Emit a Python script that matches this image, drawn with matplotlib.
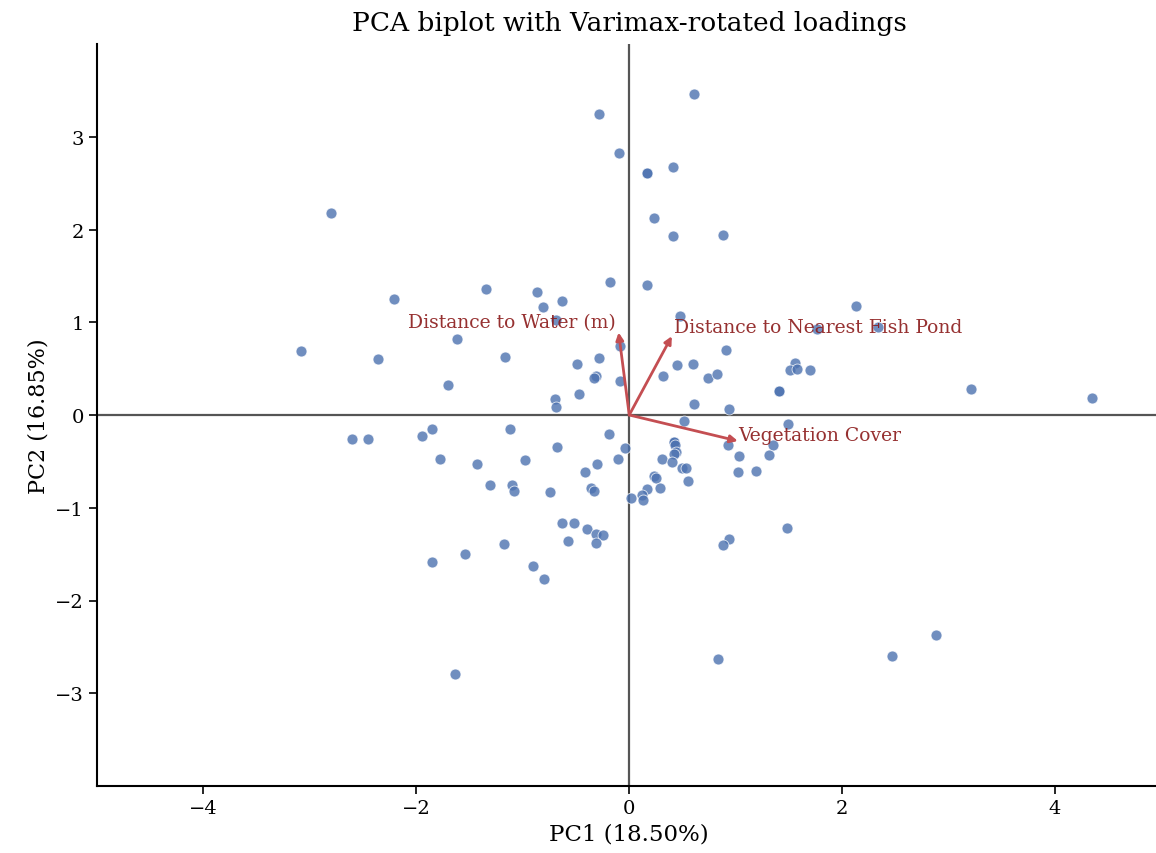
import matplotlib
matplotlib.use("Agg")
import matplotlib.pyplot as plt
import numpy as np

pc1 = [-0.28, -0.10, 0.17, 0.17, -2.80, -0.18, 0.17, -1.35, -2.21, -0.87, -0.63, -0.81, -0.69,
       -3.08, -2.36, -1.62, -1.17, -0.09, -0.49, -0.28, -0.31, -0.33, -0.09, -1.70, -0.47, -0.70, -0.69,
       0.61, 0.41, 0.23, 0.41, 0.88, 2.13, 0.48, 2.34, 1.76, 0.91, 0.45, 0.60, 0.32, 0.74, 0.82,
       1.56, 1.51, 1.58, 1.70, 1.41, 1.41, 3.21, 4.35, 0.61, 0.94,
       0.51, 1.49, 0.42, 0.42, 0.43, 0.44, 0.42, 0.31, 0.40, 0.50, 0.53, 0.55, 0.23, 0.25, 0.17, 0.29,
       0.12, 0.13, 0.02, 0.93, 1.03, 1.35, 1.31, 1.02, 1.19, 1.48, 0.94, 0.88, 0.83, 2.47, 2.88,
       -2.60, -2.45, -1.95, -1.85, -1.78, -1.43, -1.12, -0.98, -1.31, -1.10, -1.08, -0.74, -0.68,
       -0.19, -0.04, -0.11, -0.30, -0.42, -0.36, -0.33, -0.63, -0.52, -0.40, -0.31, -0.25, -0.31,
       -0.58, -1.18, -1.54, -1.85, -0.90, -0.80, -1.64]
pc2 = [3.24, 2.82, 2.61, 2.61, 2.18, 1.43, 1.40, 1.36, 1.25, 1.33, 1.23, 1.16, 1.02,
       0.69, 0.60, 0.82, 0.63, 0.74, 0.55, 0.61, 0.42, 0.40, 0.37, 0.32, 0.23, 0.17, 0.09,
       3.46, 2.67, 2.12, 1.93, 1.94, 1.18, 1.07, 0.95, 0.93, 0.70, 0.54, 0.55, 0.42, 0.40, 0.44,
       0.56, 0.48, 0.50, 0.49, 0.26, 0.26, 0.28, 0.18, 0.12, 0.07,
       -0.07, -0.10, -0.29, -0.29, -0.32, -0.40, -0.42, -0.47, -0.51, -0.57, -0.57, -0.71, -0.66, -0.68, -0.80, -0.79,
       -0.86, -0.92, -0.89, -0.32, -0.44, -0.32, -0.43, -0.61, -0.60, -1.22, -1.34, -1.40, -2.63, -2.60, -2.37,
       -0.26, -0.26, -0.23, -0.15, -0.47, -0.53, -0.15, -0.49, -0.75, -0.76, -0.82, -0.83, -0.35,
       -0.21, -0.36, -0.47, -0.53, -0.61, -0.79, -0.82, -1.16, -1.16, -1.23, -1.28, -1.29, -1.38,
       -1.36, -1.39, -1.50, -1.59, -1.63, -1.77, -2.79]

variables = ["Distance to Water (m)", "Distance to Nearest Fish Pond", "Vegetation Cover"]
load_pc1 = [-0.10, 0.40, 1.02]
load_pc2 = [0.89, 0.85, -0.28]

# label placement (pixel offsets from arrow tip)
label_offsets = [(-3, 1), (2, 0), (0, -3)]

plt.rcParams['font.family'] = ['DejaVu Serif']
fig = plt.figure(figsize=(11.56, 8.54), dpi=100)
ax = fig.add_axes([97/1156, (854-787)/854, (1161.5-97)/1156, (787-45)/854])

ax.scatter(pc1, pc2, s=62, color='#4c72b0', alpha=0.8, edgecolor='white', linewidth=0.6, zorder=3)
ax.axhline(0, color='#555555', lw=1.6, zorder=1)
ax.axvline(0, color='#555555', lw=1.6, zorder=1)

for name, lx, ly, off in zip(variables, load_pc1, load_pc2, label_offsets):
    ax.annotate('', xy=(lx, ly), xytext=(0, 0),
                arrowprops=dict(arrowstyle='-|>', color='#c44e52', lw=2, mutation_scale=11,
                                shrinkA=0, shrinkB=0), zorder=4)
    ha = 'right' if lx < 0 else 'left'
    ax.annotate(name, xy=(lx, ly), xytext=off, textcoords='offset pixels',
                color='#8b1a1a', fontsize=13.5, ha=ha, va='bottom', alpha=0.9, zorder=5)

ax.set_xlim(-5, 5)
ax.set_ylim(-4, 4)
ax.set_xticks([-4, -2, 0, 2, 4])
ax.set_yticks([-3, -2, -1, 0, 1, 2, 3])
ax.spines['top'].set_visible(False)
ax.spines['right'].set_visible(False)
ax.spines['left'].set_linewidth(1.5)
ax.spines['bottom'].set_linewidth(1.5)
ax.tick_params(labelsize=14, width=1.2, length=6)
ax.set_xlabel('PC1 (18.50%)', fontsize=16.5)
ax.set_ylabel('PC2 (16.85%)', fontsize=16)
ax.set_title('PCA biplot with Varimax-rotated loadings', fontsize=19, pad=10)

fig.savefig('out.png', dpi=100)
